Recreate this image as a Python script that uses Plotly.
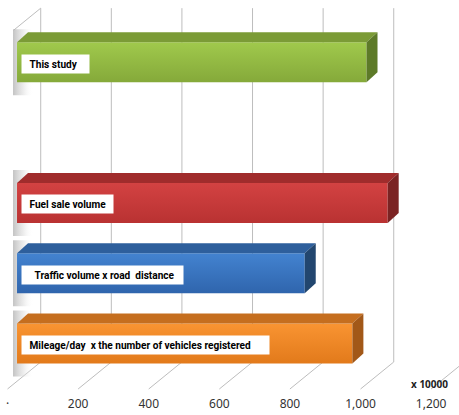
import plotly.graph_objects as go

# ---------------- data ----------------
categories = ["Mileage/day  x the number of vehicles registered",
              "Traffic volume x road  distance",
              "Fuel sale volume",
              "",
              "This study"]
values = [950, 815, 1050, None, 990]
tick_values = [0, 200, 400, 600, 800, 1000, 1200]
tick_labels = ["\u00b7", "200", "400", "600", "800", "1,000", "1,200"]
unit_label = "x 10000"

# ---------------- styles ----------------
front_top = ["#f99432", "#4383d0", "#d34242", None, "#a0c94c"]
front_bot = ["#e27a1b", "#2f65ad", "#b93232", None, "#85a93a"]
top_col = ["#c56e1f", "#2e5f9c", "#a02c2c", None, "#7b9b36"]
side_col = ["#a25818", "#22466f", "#7b2323", None, "#5d7a28"]
box_w = [247, 161, 91, None, 67]
text_pad = ["\u00a0\u00a0\u00a0", "\u00a0\u00a0\u00a0\u00a0\u00a0", "\u00a0\u00a0\u00a0", None, "\u00a0\u00a0\u00a0"]

W, H = 459, 415
B = 20
XR = [-48.2, 1252.0]          # bar (front-face) scale
YR = [-0.7326, 4.886]
px_per_unit = W / (XR[1] - XR[0])
py_per_unit = (H - B) / (YR[1] - YR[0])

def ux(px):  # pixel offset -> data units
    return px / px_per_unit

def uy(py):
    return py / py_per_unit

half = uy(20)                 # half bar thickness
ddx, ddy = ux(11), uy(10)     # depth of bar
back_dx = ux(23.7)            # bar front plane -> back wall
wall_bottom = 0 - 0.263
wall_top = 4.77
shift_floor = -ux(9.5)

fig = go.Figure()

# back wall gridlines + floor lines
gx, gy = [], []
for v in tick_values:
    xb = v + back_dx
    gx += [xb, xb, None]
    gy += [wall_bottom, wall_top, None]
    gx += [xb, v - ux(9.5), None]
    gy += [wall_bottom, wall_bottom - uy(27), None]
# left wall top edge
gx += [back_dx, back_dx - ux(27), None]
gy += [wall_top, wall_top - uy(22), None]
fig.add_trace(go.Scatter(x=gx, y=gy, mode="lines",
                         line=dict(color="#bdbdbd", width=1), hoverinfo="skip"))

for i, v in enumerate(values):
    if v is None:
        continue
    c = i
    # soft shadow on the left wall
    sx = [ux(-4), ux(16), ux(16), ux(-4)]
    sy = [c + half + uy(13), c + half + uy(13), c - half - uy(13), c - half - uy(13)]
    fig.add_trace(go.Scatter(x=sx + [sx[0]], y=sy + [sy[0]], mode="lines", fill="toself",
                             line=dict(width=0),
                             fillgradient=dict(type="horizontal",
                                               colorscale=[[0, "rgba(175,175,175,0.75)"],
                                                           [0.5, "rgba(215,215,215,0.5)"],
                                                           [1, "rgba(255,255,255,0)"]]),
                             hoverinfo="skip"))
    # front face
    fx = [0, v, v, 0, 0]
    fy = [c - half, c - half, c + half, c + half, c - half]
    fig.add_trace(go.Scatter(x=fx, y=fy, mode="lines", fill="toself", line=dict(width=0),
                             fillgradient=dict(type="vertical",
                                               colorscale=[[0, front_bot[i]], [1, front_top[i]]]),
                             hoverinfo="skip"))
    # top face
    tx = [0, v, v + ddx, ddx, 0]
    ty = [c + half, c + half, c + half + ddy, c + half + ddy, c + half]
    fig.add_trace(go.Scatter(x=tx, y=ty, mode="lines", fill="toself", line=dict(width=0),
                             fillcolor=top_col[i], hoverinfo="skip"))
    # right face
    rx = [v, v + ddx, v + ddx, v, v]
    ry = [c - half, c - half + ddy, c + half + ddy, c + half, c - half]
    fig.add_trace(go.Scatter(x=rx, y=ry, mode="lines", fill="toself", line=dict(width=0),
                             fillcolor=side_col[i], hoverinfo="skip"))
    # label box
    fig.add_annotation(x=0, y=c, xref="x", yref="y", xanchor="left", yanchor="middle",
                       xshift=4, yshift=-1.5, width=box_w[i], height=18,
                       text="<b>" + text_pad[i] + categories[i] + "</b>", align="left",
                       showarrow=False, bgcolor="white", borderpad=0,
                       font=dict(family="Roboto", size=10.1, color="black"))

fig.add_annotation(x=450 / W, y=(H - B - 384) / (H - B), xref="paper", yref="paper",
                   xanchor="right", yanchor="middle",
                   text="<b>" + unit_label + "</b>", showarrow=False,
                   font=dict(family="Noto Sans", size=10, color="#222"))

fig.update_layout(
    width=W, height=H,
    margin=dict(l=0, r=0, t=0, b=B),
    paper_bgcolor="white", plot_bgcolor="white",
    showlegend=False,
    xaxis=dict(range=XR, visible=False, fixedrange=True),
    xaxis2=dict(range=[XR[0] - shift_floor, XR[1] - shift_floor], overlaying="x", anchor="y",
                side="bottom", tickvals=tick_values, ticktext=tick_labels,
                showgrid=False, zeroline=False, showline=False, ticks="",
                tickfont=dict(family="Noto Sans", size=12, color="#333")),
    yaxis=dict(range=YR, visible=False, fixedrange=True),
)
# dummy trace to show xaxis2
fig.add_trace(go.Scatter(x=[None], y=[None], xaxis="x2", yaxis="y", hoverinfo="skip"))

fig.write_html("out.html")
